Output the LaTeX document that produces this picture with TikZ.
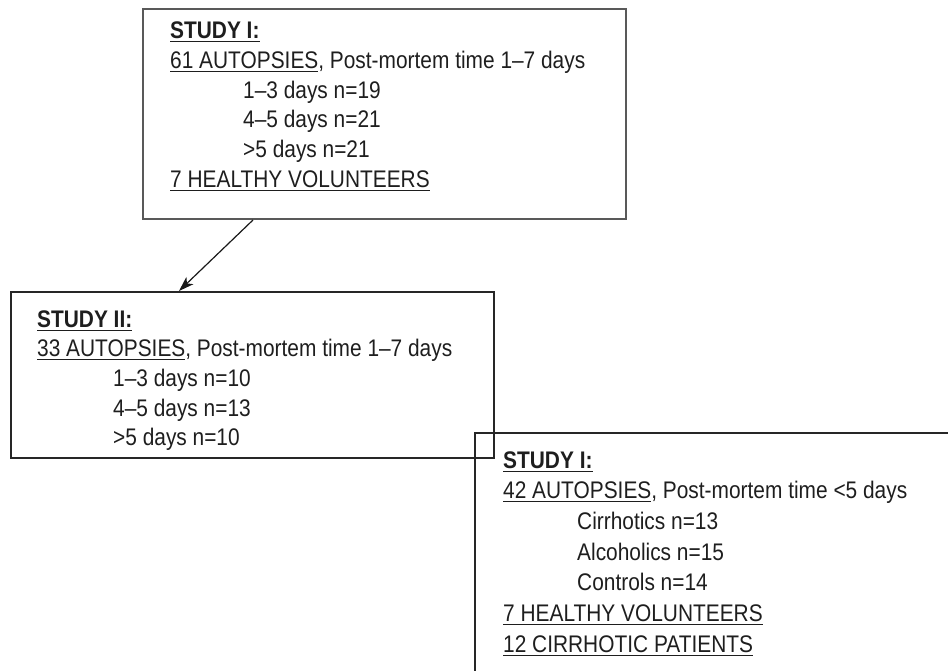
\documentclass[tikz,border=0pt]{standalone}
\usepackage{fontspec}
\setmainfont{Liberation Sans}[FakeStretch=0.87]
\usetikzlibrary{arrows.meta}
\newcommand{\ulx}[1]{\setbox0\hbox{#1}\rlap{\rule[-4.4pt]{\wd0}{1.5pt}}\box0}
\definecolor{txtc}{HTML}{1E1E1E}
\begin{document}
\begin{tikzpicture}[x=1pt,y=-1pt,
  txt/.style={anchor=base west, inner sep=0pt, text=txtc, font=\fontsize{24}{30}\selectfont},
  boxa/.style={draw=black!65, line width=2pt, anchor=north west, inner sep=0pt},
  boxb/.style={draw=black!85, line width=1.5pt, anchor=north west, inner sep=0pt},
  arr/.style={draw=black!90, line width=1.2pt, -{Stealth[length=15pt,width=10pt,inset=4pt]}}]
\useasboundingbox (0,0) rectangle (948,670);
% boxes
\node[boxa, minimum width=483pt, minimum height=210pt] (box1) at (142,8) {};
\node[boxb, minimum width=483pt, minimum height=166pt] (box2) at (10,291) {};
\node[anchor=north west, inner sep=0pt, minimum width=483pt, minimum height=250pt] (box3) at (475,433) {};
\draw[draw=black!85, line width=1.5pt] (box3.north east) -- (box3.north west) -- (box3.south west);
% box 1 text
\node[txt] (t11) at (170,38) {\textbf{\ulx{STUDY I:}}};
\node[txt] (t12) at (170,68) {\ulx{61 AUTOPSIES}, Post-mortem time 1–7 days};
\node[txt] (t13) at (243,98) {1–3 days n=19};
\node[txt] (t14) at (243,127.5) {4–5 days n=21};
\node[txt] (t15) at (243,157) {>5 days n=21};
\node[txt] (t16) at (170,187) {\ulx{7 HEALTHY VOLUNTEERS}};
% box 2 text
\node[txt] (t21) at (37,327) {\textbf{\ulx{STUDY II:}}};
\node[txt] (t22) at (37,356) {\ulx{33 AUTOPSIES}, Post-mortem time 1–7 days};
\node[txt] (t23) at (113,386) {1–3 days n=10};
\node[txt] (t24) at (113,416) {4–5 days n=13};
\node[txt] (t25) at (113,445) {>5 days n=10};
% box 3 text
\node[txt] (t31) at (503,468) {\textbf{\ulx{STUDY I:}}};
\node[txt] (t32) at (503,498) {\ulx{42 AUTOPSIES}, Post-mortem time <5 days};
\node[txt] (t33) at (577,529) {Cirrhotics n=13};
\node[txt] (t34) at (577,560) {Alcoholics n=15};
\node[txt] (t35) at (577,590) {Controls n=14};
\node[txt] (t36) at (503,621) {\ulx{7 HEALTHY VOLUNTEERS}};
\node[txt] (t37) at (503,652) {\ulx{12 CIRRHOTIC PATIENTS}};
% arrow
\draw[arr] ([xshift=111pt]box1.south west) -- ([xshift=169pt]box2.north west);
\end{tikzpicture}
\end{document}
